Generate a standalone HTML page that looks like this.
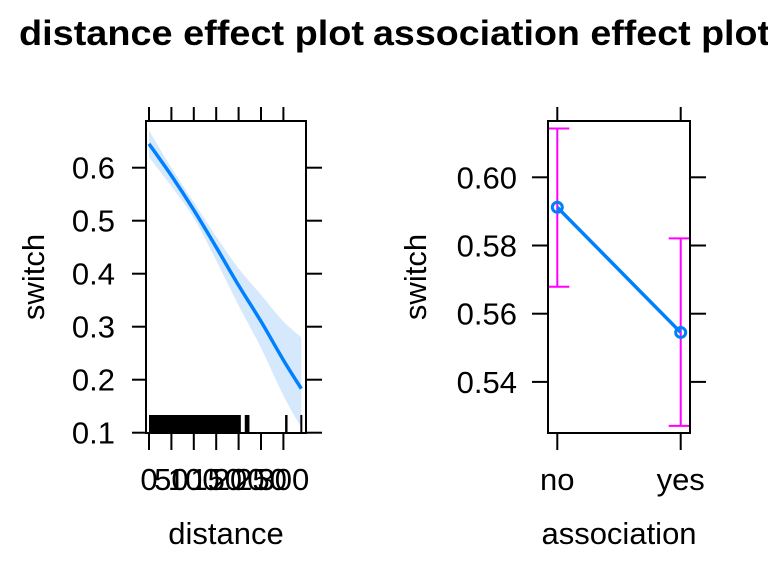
<!DOCTYPE html>
<html><head><meta charset="utf-8"><style>
html,body{margin:0;padding:0;background:#fff;}
svg{display:block;font-family:"Liberation Sans",Arial,sans-serif;}
</style></head><body>
<svg id="chart" width="768" height="576" viewBox="0 0 768 576" xmlns="http://www.w3.org/2000/svg"></svg>
<script>
// Distance panel data
const distX = [0, 50, 100, 150, 200, 250, 300, 340];
const distFit = [0.645, 0.585, 0.52, 0.45, 0.378, 0.31, 0.237, 0.183];
const distUpper = [0.67, 0.60, 0.535, 0.47, 0.41, 0.36, 0.31, 0.28];
const distLower = [0.62, 0.565, 0.505, 0.425, 0.34, 0.26, 0.17, 0.11];
const distXTicks = [0, 50, 100, 150, 200, 250, 300];
const distYTicks = [0.1, 0.2, 0.3, 0.4, 0.5, 0.6];
const rugExtra = [216, 218, 220, 222, 306, 307, 340];
// Association panel data
const assocCats = ["no", "yes"];
const assocFit = [0.5912, 0.5545];
const assocLower = [0.5679, 0.5271];
const assocUpper = [0.6143, 0.5821];
const assocYTicks = ["0.54", "0.56", "0.58", "0.60"];

const svg = document.getElementById('chart');
const NS = 'http://www.w3.org/2000/svg';
function mk(tag, attrs, parent) {
  const e = document.createElementNS(NS, tag);
  for (const k in attrs) e.setAttribute(k, attrs[k]);
  (parent || svg).appendChild(e);
  return e;
}
function smooth(pts, move) {
  let d = (move ? 'M' : 'L') + pts[0][0] + ',' + pts[0][1];
  for (let i = 0; i < pts.length - 1; i++) {
    const p0 = pts[i - 1] || pts[i], p1 = pts[i], p2 = pts[i + 1], p3 = pts[i + 2] || p2;
    const c1x = p1[0] + (p2[0] - p0[0]) / 6, c1y = p1[1] + (p2[1] - p0[1]) / 6;
    const c2x = p2[0] - (p3[0] - p1[0]) / 6, c2y = p2[1] - (p3[1] - p1[1]) / 6;
    d += ' C' + c1x + ',' + c1y + ' ' + c2x + ',' + c2y + ' ' + p2[0] + ',' + p2[1];
  }
  return d;
}

// ---- Left panel
const L = {x0: 146, x1: 306, y0: 121, y1: 433};
const lx = d => 149 + d * (22.4 / 50);
const ly = v => 432.7 - (v - 0.1) * 530;

const clipL = mk('clipPath', {id: 'clipL'});
mk('rect', {x: L.x0, y: L.y0, width: L.x1 - L.x0, height: L.y1 - L.y0}, clipL);

const up = distX.map((d, i) => [lx(d), ly(distUpper[i])]);
const lo = distX.map((d, i) => [lx(d), ly(distLower[i])]).reverse();
const band = mk('path', {d: smooth(up, true) + ' ' + smooth(lo, false) + ' Z', fill: '#d6e8fb', stroke: 'none', 'clip-path': 'url(#clipL)'});



const fitLine = mk('path', {d: smooth(distX.map((d, i) => [lx(d), ly(distFit[i])]), true), fill: 'none', stroke: '#0080ff', 'stroke-width': 3.5});



const rug = mk('g', {});


mk('rect', {x: lx(0), y: 415, width: lx(205) - lx(0), height: 18, fill: '#000'}, rug);
rugExtra.forEach(d => mk('rect', {x: lx(d) - 1, y: 415, width: 2, height: 18, fill: '#000'}, rug));

const boxL = mk('rect', {x: L.x0, y: L.y0, width: L.x1 - L.x0, height: L.y1 - L.y0, fill: 'none', stroke: '#000', 'stroke-width': 2});



distXTicks.forEach(t => {
  const x = lx(t);
  mk('line', {x1: x, x2: x, y1: 107, y2: L.y0, stroke: '#000', 'stroke-width': 2});
  mk('line', {x1: x, x2: x, y1: L.y1, y2: 450, stroke: '#000', 'stroke-width': 2});
  const tx = mk('text', {x: x, y: 490, 'font-size': 31, 'text-anchor': 'middle'});
  
  
  tx.textContent = String(t);
});
distYTicks.forEach(t => {
  const y = ly(t);
  mk('line', {x1: 132, x2: L.x0, y1: y, y2: y, stroke: '#000', 'stroke-width': 2});
  mk('line', {x1: L.x1, x2: 322, y1: y, y2: y, stroke: '#000', 'stroke-width': 2});
  const tx = mk('text', {x: 115, y: y + 11, 'font-size': 31, 'text-anchor': 'end'});
  
  
  tx.textContent = t.toFixed(1);
});

// ---- Right panel
const R = {x0: 548, x1: 690, y0: 121, y1: 433};
const rx = i => [557.3, 680.7][i];
const ry = v => 177.3 + (0.60 - v) * (68.2 / 0.02);
const clipR = mk('clipPath', {id: 'clipR'});
mk('rect', {x: R.x0, y: R.y0, width: R.x1 - R.x0, height: R.y1 - R.y0}, clipR);

assocCats.forEach((c, i) => {
  const x = rx(i);
  const g = mk('g', {'clip-path': 'url(#clipR)'});
  
  
  mk('line', {x1: x, x2: x, y1: ry(assocLower[i]), y2: ry(assocUpper[i]), stroke: '#ff00ff', 'stroke-width': 2}, g);
  mk('line', {x1: x - 12, x2: x + 12, y1: ry(assocLower[i]), y2: ry(assocLower[i]), stroke: '#ff00ff', 'stroke-width': 2}, g);
  mk('line', {x1: x - 12, x2: x + 12, y1: ry(assocUpper[i]), y2: ry(assocUpper[i]), stroke: '#ff00ff', 'stroke-width': 2}, g);
});
const aLine = mk('polyline', {points: assocCats.map((c, i) => rx(i) + ',' + ry(assocFit[i])).join(' '), fill: 'none', stroke: '#0080ff', 'stroke-width': 3.5});


assocCats.forEach((c, i) => {
  const p = mk('circle', {cx: rx(i), cy: ry(assocFit[i]), r: 5, fill: 'none', stroke: '#0080ff', 'stroke-width': 3});
  
  
});
const boxR = mk('rect', {x: R.x0, y: R.y0, width: R.x1 - R.x0, height: R.y1 - R.y0, fill: 'none', stroke: '#000', 'stroke-width': 2});



assocCats.forEach((c, i) => {
  const x = rx(i);
  mk('line', {x1: x, x2: x, y1: 107, y2: R.y0, stroke: '#000', 'stroke-width': 2});
  mk('line', {x1: x, x2: x, y1: R.y1, y2: 450, stroke: '#000', 'stroke-width': 2});
  const tx = mk('text', {x: x, y: 490, 'font-size': 31, 'text-anchor': 'middle'});
  
  
  tx.textContent = c;
});
assocYTicks.forEach(t => {
  const y = ry(parseFloat(t));
  mk('line', {x1: 532, x2: R.x0, y1: y, y2: y, stroke: '#000', 'stroke-width': 2});
  mk('line', {x1: R.x1, x2: 706, y1: y, y2: y, stroke: '#000', 'stroke-width': 2});
  const tx = mk('text', {x: 517, y: y + 11, 'font-size': 31, 'text-anchor': 'end'});
  
  
  tx.textContent = t;
});

function label(txt, attrs, name) {
  const t = mk('text', attrs);
  
  
  t.textContent = txt;
  return t;
}
label('distance effect plot', {x: 19, y: 45, 'font-size': 35, 'font-weight': 'bold', textLength: 345, lengthAdjust: 'spacingAndGlyphs'}, 'distance-title');
label('association effect plot', {x: 373, y: 45, 'font-size': 35, 'font-weight': 'bold', textLength: 397, lengthAdjust: 'spacingAndGlyphs'}, 'association-title');
label('switch', {x: 0, y: 0, 'font-size': 31, 'text-anchor': 'middle', transform: 'translate(44,277) rotate(-90)'}, 'distance-y-axis-title');
label('switch', {x: 0, y: 0, 'font-size': 31, 'text-anchor': 'middle', transform: 'translate(426,277) rotate(-90)'}, 'association-y-axis-title');
label('distance', {x: 226, y: 544, 'font-size': 31, 'text-anchor': 'middle'}, 'distance-x-axis-title');
label('association', {x: 619, y: 544, 'font-size': 31, 'text-anchor': 'middle'}, 'association-x-axis-title');
</script>
</body></html>
